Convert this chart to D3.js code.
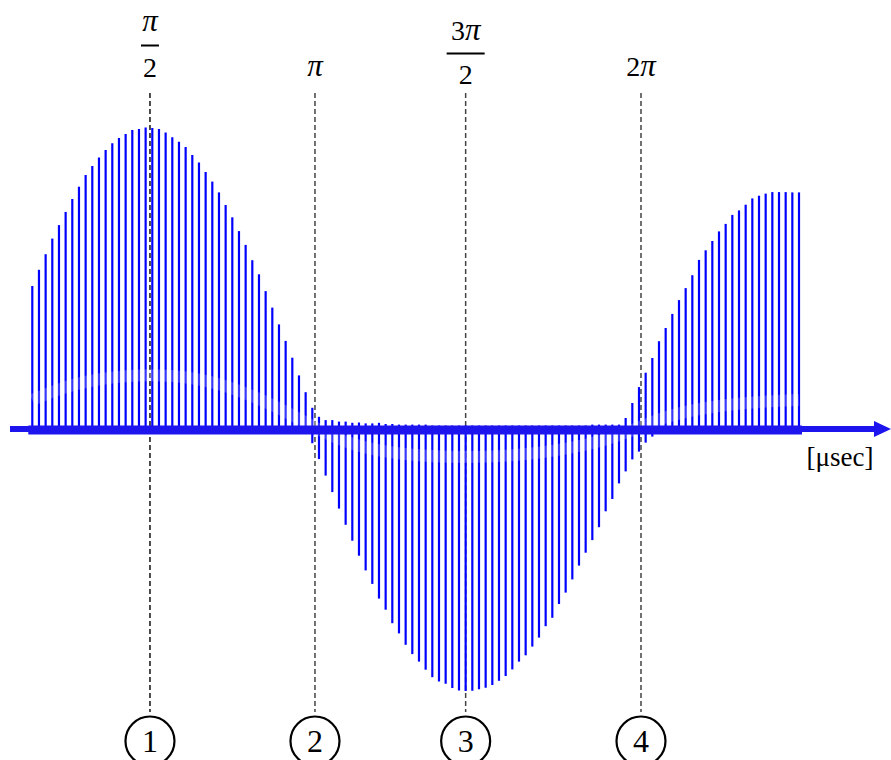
<!DOCTYPE html>
<html>
<head>
<script src="https://cdnjs.cloudflare.com/ajax/libs/d3/7.8.5/d3.min.js"></script>
<style>
    body { margin: 0; background: #fff; }
    svg { display: block; }
    text { font-family: 'Liberation Serif', 'Times New Roman', serif; }
</style>
</head>
<body>
<div class="chart"></div>
<script>
    // sample tops / bottoms (signal units, 0 = time axis)
    let hi = [
        0.48, 0.534, 0.586, 0.638, 0.683, 0.727, 0.77, 0.811, 0.85, 0.88,
        0.908, 0.933, 0.956, 0.973, 0.987, 1.0, 1.003, 1.008, 1.007, 1.003,
        0.992, 0.976, 0.961, 0.943, 0.917, 0.892, 0.86, 0.828, 0.792, 0.75,
        0.709, 0.663, 0.617, 0.566, 0.519, 0.463, 0.408, 0.352, 0.297, 0.241,
        0.182, 0.126, 0.074, 0.044, 0.033, 0.033, 0.028, 0.028, 0.024, 0.025,
        0.022, 0.022, 0.024, 0.02, 0.02, 0.018, 0.018, 0.018, 0.018, 0.018,
        0.015, 0.015, 0.015, 0.015, 0.015, 0.015, 0.015, 0.015, 0.015, 0.015,
        0.015, 0.015, 0.015, 0.015, 0.015, 0.015, 0.015, 0.015, 0.015, 0.015,
        0.015, 0.015, 0.015, 0.015, 0.018, 0.018, 0.018, 0.018, 0.018, 0.04,
        0.09, 0.143, 0.191, 0.24, 0.296, 0.34, 0.387, 0.433, 0.473, 0.516,
        0.567, 0.599, 0.63, 0.662, 0.687, 0.717, 0.732, 0.751, 0.772, 0.781,
        0.788, 0.793, 0.793, 0.793, 0.792, 0.792
    ];
    let lo = [
        -0.01, -0.01, -0.01, -0.01, -0.01, -0.01, -0.01, -0.01, -0.01, -0.01,
        -0.01, -0.01, -0.01, -0.01, -0.01, -0.01, -0.01, -0.01, -0.01, -0.01,
        -0.01, -0.01, -0.01, -0.01, -0.01, -0.01, -0.01, -0.01, -0.01, -0.01,
        -0.01, -0.01, -0.01, -0.01, -0.01, -0.01, -0.01, -0.01, -0.01, -0.01,
        -0.01, -0.01, -0.044, -0.097, -0.152, -0.207, -0.262, -0.316, -0.369, -0.419,
        -0.468, -0.513, -0.562, -0.599, -0.644, -0.678, -0.716, -0.747, -0.772, -0.799,
        -0.824, -0.838, -0.846, -0.86, -0.868, -0.87, -0.869, -0.864, -0.859, -0.85,
        -0.836, -0.82, -0.798, -0.772, -0.751, -0.722, -0.692, -0.654, -0.626, -0.58,
        -0.542, -0.498, -0.452, -0.409, -0.367, -0.324, -0.271, -0.23, -0.178, -0.138,
        -0.098, -0.072, -0.042, -0.022, -0.01, -0.01, -0.01, -0.01, -0.01, -0.01,
        -0.01, -0.01, -0.01, -0.01, -0.01, -0.01, -0.01, -0.01, -0.01, -0.01,
        -0.01, -0.01, -0.01, -0.01, -0.01, -0.01
    ];

    // phase markers (in sample index units)
    let markerIdx = [17.65, 42.4, 65.0, 91.3];
    let markerNum = ["1", "2", "3", "4"];
    let phaseCoef = ["", "", "3", "2"];
    let phaseDen = ["2", "", "2", ""];

    // faint underlying curve
    let ghostIdx = [0, 4.15, 10.15, 17.65, 25.1, 31.1, 37.1, 42.4, 47.6, 55.1, 65, 74.6, 83.6, 89.6, 94.1, 100.1, 107.6, 115];
    let ghostVal = [0.1, 0.14, 0.173, 0.187, 0.173, 0.133, 0.073, 0.007, -0.05, -0.083, -0.093, -0.083, -0.05, -0.007, 0.04, 0.073, 0.093, 0.1];

    let width = 891;
    let height = 760;

    let svg = d3.select('.chart')
        .append('svg')
        .attr('width', width)
        .attr('height', height);

    let x = d3.scaleLinear()
        .domain([0, hi.length - 1])
        .range([32.3, 799]);

    let y = d3.scaleLinear()
        .domain([-1, 1])
        .range([730, 130]);

    let stems = hi.map(function (h, i) { return { i: i, hi: h, lo: lo[i] }; });

    // dashed phase lines
    svg.selectAll('line.phase')
        .data(markerIdx)
        .enter()
        .append('line')
        .attr('class', 'phase')
        .attr('x1', function (d) { return x(d); })
        .attr('x2', function (d) { return x(d); })
        .attr('y1', 93)
        .attr('y2', 712)
        .style('stroke', function (d, i) { return i == 0 ? '#111' : '#444'; })
        .style('stroke-width', 1.5)
        .style('stroke-dasharray', '5,3');

    // stems
    svg.selectAll('line.stem')
        .data(stems)
        .enter()
        .append('line')
        .attr('class', 'stem')
        .attr('x1', function (d) { return x(d.i); })
        .attr('x2', function (d) { return x(d.i); })
        .attr('y1', function (d) { return y(d.lo); })
        .attr('y2', function (d) { return y(d.hi); })
        .style('stroke', '#0000ff')
        .style('stroke-width', 2.2);

    // faint light curve over the stems
    let ghost = d3.line()
        .x(function (d) { return x(d[0]); })
        .y(function (d) { return y(d[1]); })
        .curve(d3.curveBasis);

    svg.append('path')
        .datum(ghostIdx.map(function (d, i) { return [d, ghostVal[i]]; }))
        .attr('d', ghost)
        .style('fill', 'none')
        .style('stroke', '#fff')
        .style('stroke-width', 12)
        .style('stroke-opacity', 0.22);

    // time axis with arrow
    svg.append('line')
        .attr('x1', x(0) - 4)
        .attr('x2', x(hi.length - 1) + 3)
        .attr('y1', y(0))
        .attr('y2', y(0))
        .style('stroke', '#1e14ee')
        .style('stroke-width', 9);

    svg.append('line')
        .attr('x1', 10)
        .attr('x2', 878)
        .attr('y1', y(0) - 1)
        .attr('y2', y(0) - 1)
        .style('stroke', '#1e14ee')
        .style('stroke-width', 6);

    svg.append('path')
        .attr('d', 'M874,' + (y(0) - 9) + ' L891,' + (y(0) - 1) + ' L874,' + (y(0) + 7) + ' Z')
        .style('fill', '#1e14ee');

    svg.append('text')
        .attr('x', 840)
        .attr('y', 466)
        .style('font-size', '27px')
        .style('text-anchor', 'middle')
        .text('[\u03bcsec]');

    // phase labels at top
    let phaseLabels = svg.selectAll('g.phaseLabel')
        .data(markerIdx)
        .enter()
        .append('g')
        .attr('class', 'phaseLabel')
        .attr('transform', function (d) { return 'translate(' + x(d) + ',0)'; });

    let num = phaseLabels.append('text')
        .attr('y', function (d, i) { return phaseDen[i] ? (i == 2 ? 40 : 31) : 76; })
        .style('font-size', '28px')
        .style('text-anchor', 'middle');

    num.append('tspan')
        .text(function (d, i) { return phaseCoef[i]; });

    num.append('tspan')
        .style('font-style', 'italic')
        .style('font-size', '31px')
        .text('\u03c0');

    phaseLabels.filter(function (d, i) { return phaseDen[i] != ''; })
        .append('line')
        .attr('x1', function (d) { return markerIdx.indexOf(d) == 2 ? -19 : -9; })
        .attr('x2', function (d) { return markerIdx.indexOf(d) == 2 ? 19 : 9; })
        .attr('y1', function (d) { return markerIdx.indexOf(d) == 2 ? 53.5 : 45.5; })
        .attr('y2', function (d) { return markerIdx.indexOf(d) == 2 ? 53.5 : 45.5; })
        .style('stroke', '#000')
        .style('stroke-width', 2);

    phaseLabels.filter(function (d, i) { return phaseDen[i] != ''; })
        .append('text')
        .attr('y', function (d) { return markerIdx.indexOf(d) == 2 ? 84 : 77; })
        .style('font-size', '28px')
        .style('text-anchor', 'middle')
        .text(function (d) { return phaseDen[markerIdx.indexOf(d)]; });

    // circled numbers at bottom
    let circ = svg.selectAll('g.num')
        .data(markerIdx)
        .enter()
        .append('g')
        .attr('class', 'num')
        .attr('transform', function (d) { return 'translate(' + x(d) + ',741)'; });

    circ.append('circle')
        .attr('r', 24.5)
        .style('fill', '#fff')
        .style('stroke', '#000')
        .style('stroke-width', 2.2);

    circ.append('text')
        .attr('y', 11)
        .style('font-size', '32px')
        .style('text-anchor', 'middle')
        .text(function (d, i) { return markerNum[i]; });
</script>
</body>
</html>
